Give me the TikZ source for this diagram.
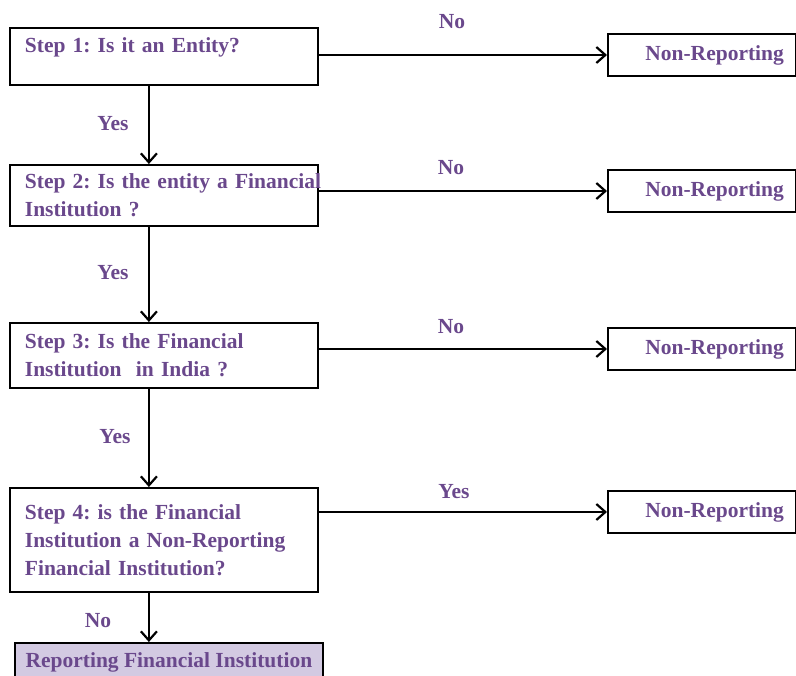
\documentclass[tikz,border=0pt]{standalone}
\usepackage{fontspec}
\setmainfont{Liberation Serif}
\usetikzlibrary{arrows.meta}
\definecolor{stepviolet}{RGB}{106,72,140}
\definecolor{reportfill}{RGB}{211,202,226}
\tikzset{
  boxfont/.style={text=stepviolet, font=\frenchspacing\bfseries\fontsize{21.5}{28}\selectfont},
  stepbox/.style={boxfont, draw, line width=1.8pt, anchor=north west, minimum width=308pt,
    text width=278pt, inner xsep=15pt, inner ysep=0pt, align=left},
  nrbox/.style={boxfont, draw, line width=1.8pt, anchor=west, minimum height=42pt,
    text width=164pt, inner xsep=12pt, align=right},
  reportbox/.style={boxfont, draw, line width=1.8pt, fill=reportfill, anchor=north west,
    minimum width=308pt, inner xsep=7pt, inner ysep=0pt, text height=25pt, text depth=15pt},
  lbl/.style={boxfont},
  flowarrow/.style={line width=2.2pt, -{Straight Barb[length=9pt,width=16pt]}}
}
\begin{document}
\begin{tikzpicture}[x=1pt,y=-1pt]
\path[use as bounding box, clip] (0,0) rectangle (796,676);

% steps
\node[stepbox, text height=25pt, text depth=32pt] (step1) at (9,27) {Step 1: Is it an Entity?};
\node[stepbox, minimum height=61pt] (step2) at (9,164) {\mbox{Step 2: Is the entity a Financial}\\Institution ?};
\node[stepbox, minimum height=65pt] (step3) at (9,322) {Step 3: Is the Financial\\Institution\ \ in India ?};
\node[stepbox, minimum height=104pt] (step4) at (9,487) {Step 4: is the Financial\\Institution a Non-Reporting\\Financial Institution?};
\node[reportbox] (report) at (14,642) {Reporting Financial Institution};

% outcomes
\node[nrbox] (nr1) at (607,55) {Non-Reporting};
\node[nrbox] (nr2) at (607,191) {Non-Reporting};
\node[nrbox] (nr3) at (607,349) {Non-Reporting};
\node[nrbox] (nr4) at (607,512) {Non-Reporting};

% labels
\node[lbl] (no1) at (452,22) {No};
\node[lbl] (no2) at (451,168) {No};
\node[lbl] (no3) at (451,327) {No};
\node[lbl] (yes4) at (454,492) {Yes};
\node[lbl] (yes1) at (113,124) {Yes};
\node[lbl] (yes2) at (113,273) {Yes};
\node[lbl] (yes3) at (115,437) {Yes};
\node[lbl] (no4) at (98,621) {No};

\draw[flowarrow] (step1.east |- nr1) -- (nr1);
\draw[flowarrow] (step2.east |- nr2) -- (nr2);
\draw[flowarrow] (step3.east |- nr3) -- (nr3);
\draw[flowarrow] (step4.east |- nr4) -- (nr4);

\draw[flowarrow] ([xshift=-15pt]step1.south) -- ([xshift=-15pt]step2.north);
\draw[flowarrow] ([xshift=-15pt]step2.south) -- ([xshift=-15pt]step3.north);
\draw[flowarrow] ([xshift=-15pt]step3.south) -- ([xshift=-15pt]step4.north);
\draw[flowarrow] ([xshift=-15pt]step4.south) -- ([xshift=-15pt]step4.south |- report.north);

\end{tikzpicture}
\end{document}
